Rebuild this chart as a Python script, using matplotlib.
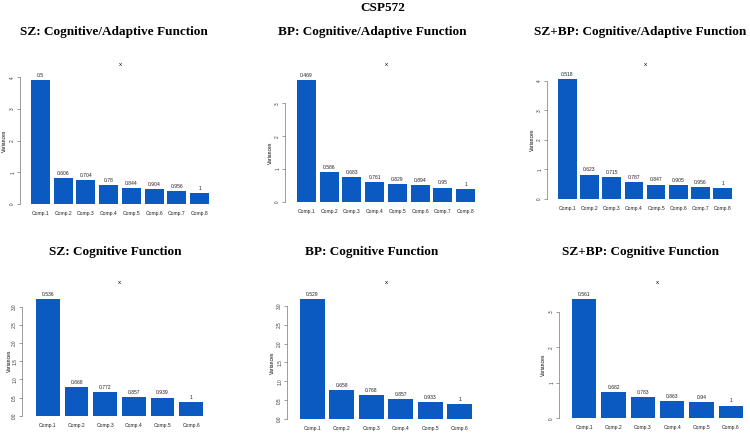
import matplotlib
matplotlib.use("Agg")
import matplotlib.pyplot as plt

# ---------------- data ----------------
comps8 = ["Comp.1", "Comp.2", "Comp.3", "Comp.4", "Comp.5", "Comp.6", "Comp.7", "Comp.8"]
comps6 = ["Comp.1", "Comp.2", "Comp.3", "Comp.4", "Comp.5", "Comp.6"]

sz_ca_var = [3.90, 0.83, 0.77, 0.59, 0.49, 0.46, 0.40, 0.35]
sz_ca_cum = ["0.5", "0.606", "0.704", "0.78", "0.844", "0.904", "0.956", "1"]

bp_ca_var = [3.70, 0.92, 0.77, 0.61, 0.54, 0.51, 0.44, 0.39]
bp_ca_cum = ["0.469", "0.586", "0.683", "0.761", "0.829", "0.894", "0.95", "1"]

szbp_ca_var = [4.05, 0.82, 0.72, 0.57, 0.48, 0.45, 0.40, 0.35]
szbp_ca_cum = ["0.518", "0.623", "0.715", "0.787", "0.847", "0.905", "0.956", "1"]

sz_c_var = [3.22, 0.79, 0.64, 0.52, 0.50, 0.38]
sz_c_cum = ["0.536", "0.668", "0.772", "0.857", "0.939", "1"]

bp_c_var = [3.17, 0.77, 0.65, 0.53, 0.45, 0.40]
bp_c_cum = ["0.529", "0.658", "0.768", "0.857", "0.933", "1"]

szbp_c_var = [3.35, 0.73, 0.60, 0.49, 0.46, 0.36]
szbp_c_cum = ["0.561", "0.682", "0.783", "0.863", "0.94", "1"]

titles = ["SZ: Cognitive/Adaptive Function", "BP: Cognitive/Adaptive Function",
          "SZ+BP: Cognitive/Adaptive Function", "SZ: Cognitive Function",
          "BP: Cognitive Function", "SZ+BP: Cognitive Function"]
suptitle = "CSP572"

yticks_list = [[0, 1, 2, 3, 4], [0, 1, 2, 3], [0, 1, 2, 3, 4],
               [0, 0.5, 1.0, 1.5, 2.0, 2.5, 3.0], [0, 0.5, 1.0, 1.5, 2.0, 2.5, 3.0],
               [0, 1, 2, 3]]
ytick_labels = [["0", "1", "2", "3", "4"], ["0", "1", "2", "3"], ["0", "1", "2", "3", "4"],
                ["0.0", "0.5", "1.0", "1.5", "2.0", "2.5", "3.0"],
                ["0.0", "0.5", "1.0", "1.5", "2.0", "2.5", "3.0"],
                ["0", "1", "2", "3"]]

panels = [
    (comps8, sz_ca_var, sz_ca_cum),
    (comps8, bp_ca_var, bp_ca_cum),
    (comps8, szbp_ca_var, szbp_ca_cum),
    (comps6, sz_c_var, sz_c_cum),
    (comps6, bp_c_var, bp_c_cum),
    (comps6, szbp_c_var, szbp_c_cum),
]

# ---------------- layout (pixels, top origin) ----------------
W, H = 750, 434
# bars_left, bars_right, baseline_y, px_per_unit, ylim_top, axis_x, title_xy, x_xy, ylab_x
layout = [
    (31, 209, 204.0, 31.7, 4.1, 20, (114, 32), (120, 64), 4),
    (297, 475, 202.0, 32.9, 3.9, 285, (372, 32), (386, 64), 270),
    (558, 732, 198.7, 29.5, 4.2, 547, (640, 32), (645, 64), 532),
    (36, 203, 415.7, 36.3, 3.3, 22, (115, 252), (119, 283), 9),
    (300, 472, 419.3, 37.9, 3.25, 287, (372, 252), (386, 283), 272),
    (572, 743, 418.3, 35.5, 3.45, 559, (640, 252), (657, 283), 543),
]

bar_color = "#0a5ac2"
serif = ["Liberation Serif", "DejaVu Serif"]
sans = ["Liberation Sans", "DejaVu Sans"]

fig = plt.figure(figsize=(W / 100, H / 100), dpi=100)
fig.patch.set_facecolor("white")

fig.text(383 / W, 1 - 8 / H, suptitle, ha="center", va="center",
         fontsize=9.5, fontweight="bold", family=serif)

for i, ((labels, var, cum), lay) in enumerate(zip(panels, layout)):
    bl, br, base, ppu, ytop, axx, txy, xxy, ylx = lay
    n = len(var)
    top_px = base - ytop * ppu
    ax = fig.add_axes([bl / W, 1 - base / H, (br - bl) / W, (base - top_px) / H])
    width = 1 / 1.2
    pos = list(range(n))
    ax.bar(pos, var, width=width, color=bar_color, edgecolor="none")
    ax.set_xlim(-width / 2, n - 1 + width / 2)
    ax.set_ylim(0, ytop)
    for p, v, c in zip(pos, var, cum):
        ax.annotate(c, (p, v), xytext=(0, 1.5), textcoords="offset points",
                    ha="center", va="bottom", fontsize=3.6, family=sans, color="#222222")
    ax.set_xticks(pos)
    ax.set_xticklabels(labels, fontsize=3.6, family=sans, color="#222222")
    ax.tick_params(axis="x", length=0, pad=5)
    for s in ["top", "right", "bottom"]:
        ax.spines[s].set_visible(False)
    ax.spines["left"].set_position(("outward", (bl - axx) * 0.72))
    ax.spines["left"].set_bounds(yticks_list[i][0], yticks_list[i][-1])
    ax.spines["left"].set_linewidth(0.5)
    ax.spines["left"].set_color("#777777")
    ax.set_yticks(yticks_list[i])
    ax.set_yticklabels(ytick_labels[i], fontsize=3.4, family=sans, rotation=90,
                       va="center", color="#333333")
    ax.tick_params(axis="y", length=2, width=0.5, pad=1.5, color="#777777")
    ax.patch.set_visible(False)

    # titles
    fig.text(txy[0] / W, 1 - txy[1] / H, titles[i], ha="center", va="center",
             fontsize=9.5, fontweight="bold", family=serif)
    fig.text(xxy[0] / W, 1 - xxy[1] / H, "x", ha="center", va="center",
             fontsize=4.5, family=sans)
    ymid = base - (yticks_list[i][-1] / 2) * ppu
    fig.text(ylx / W, 1 - ymid / H, "Variances", ha="center", va="center",
             rotation=90, fontsize=3.6, family=sans)

fig.savefig("out.png", dpi=100, facecolor="white")
